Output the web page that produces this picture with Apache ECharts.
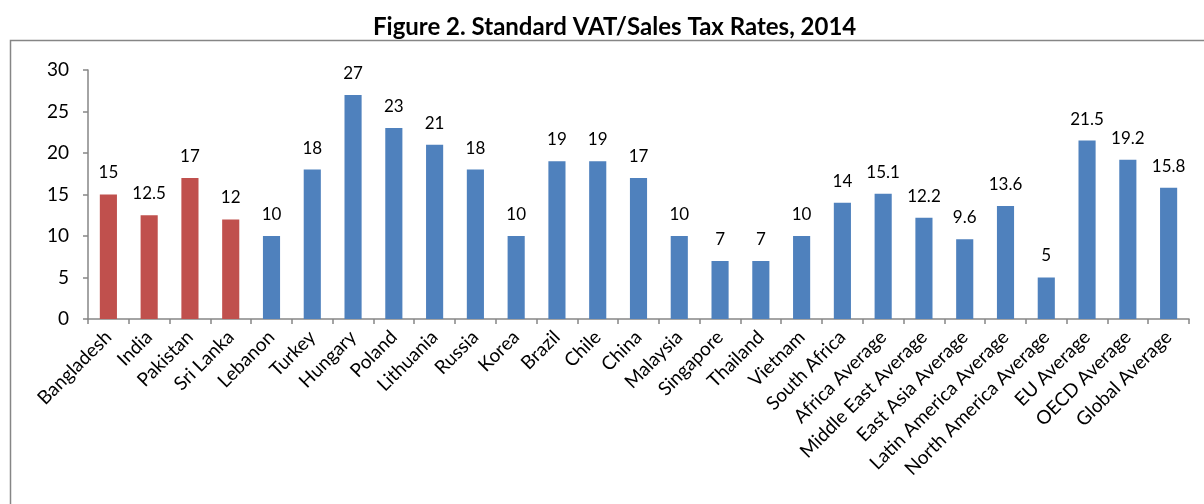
<!DOCTYPE html>
<html>
<head>
    <meta charset="UTF-8">
    <title>VAT rates</title>
    <script src="https://cdn.jsdelivr.net/npm/echarts@6/dist/echarts.min.js"></script>
</head>
<body style="margin:0">
<div id="bar" style="width:1204px; height:504px;"></div>
<script>
    var categories = ['Bangladesh', 'India', 'Pakistan', 'Sri Lanka', 'Lebanon', 'Turkey', 'Hungary', 'Poland',
        'Lithuania', 'Russia', 'Korea', 'Brazil', 'Chile', 'China', 'Malaysia', 'Singapore', 'Thailand', 'Vietnam',
        'South Africa', 'Africa Average', 'Middle East Average', 'East Asia Average', 'Latin America Average',
        'North America Average', 'EU Average', 'OECD Average', 'Global Average'];
    var rates = [15, 12.5, 17, 12, 10, 18, 27, 23, 21, 18, 10, 19, 19, 17, 10, 7, 7, 10, 14, 15.1, 12.2, 9.6, 13.6, 5, 21.5, 19.2, 15.8];
    var highlighted = 4; // first four are South Asia
    var yTicks = [0, 5, 10, 15, 20, 25, 30];

    var font = 'Lato';
    var chart = echarts.init(document.getElementById('bar'), null, {renderer: 'canvas'});
    chart.setOption({
        animation: false,
        title: {
            text: 'Figure 2. Standard VAT/Sales Tax Rates, 2014',
            left: 368, top: 10,
            textStyle: {fontFamily: font, fontWeight: 'bold', fontSize: 24, color: '#000'}
        },
        graphic: [{
            type: 'rect', shape: {x: 10.5, y: 40.5, width: 1200, height: 480},
            style: {fill: null, stroke: '#868686', lineWidth: 1.5}, silent: true
        }],
        grid: {left: 88, right: 15, top: 70, bottom: 185},
        xAxis: {
            type: 'category', data: categories,
            axisLine: {lineStyle: {color: '#868686', width: 1.5}},
            axisTick: {show: true, alignWithLabel: false, length: 5, lineStyle: {color: '#868686', width: 1.5}},
            axisLabel: {rotate: 45, interval: 0, fontFamily: font, fontSize: 19, color: '#000', margin: 15}
        },
        yAxis: {
            type: 'value', min: yTicks[0], max: yTicks[yTicks.length - 1], interval: 5,
            axisLine: {show: true, lineStyle: {color: '#868686', width: 1.5}},
            axisTick: {show: true, length: 5, lineStyle: {color: '#868686', width: 1.5}},
            splitLine: {show: false},
            axisLabel: {fontFamily: font, fontSize: 19, color: '#000', margin: 19}
        },
        series: [{
            type: 'bar', barWidth: '42%',
            data: rates.map(function (v, i) {
                return {value: v, itemStyle: {color: i < highlighted ? '#C0504D' : '#4F81BD'}};
            }),
            label: {show: true, position: 'top', distance: 13, fontFamily: font, fontSize: 17, color: '#000'}
        }]
    });
</script>
</body>
</html>
